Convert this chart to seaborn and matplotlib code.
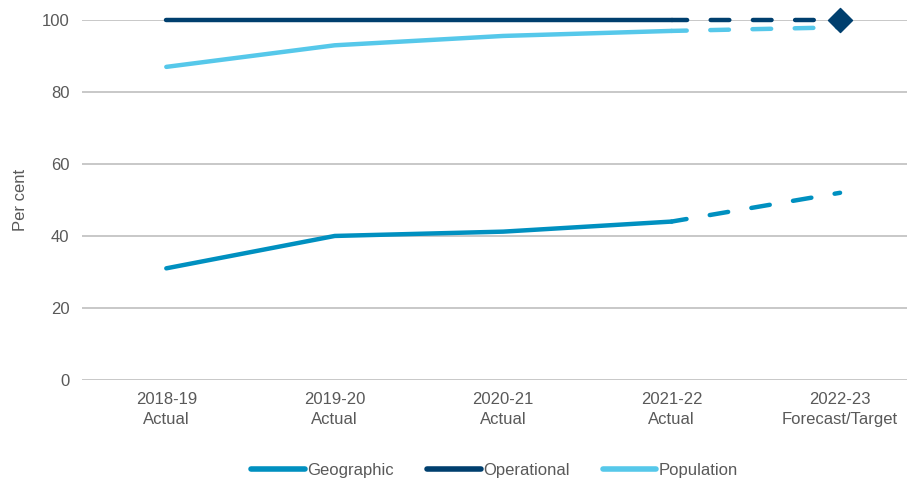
import pandas as pd
import matplotlib.pyplot as plt
import seaborn as sns
from matplotlib.lines import Line2D

# --- Data ---
years = ["2018-19\nActual", "2019-20\nActual", "2020-21\nActual",
         "2021-22\nActual", "2022-23\nForecast/Target"]
geographic = [31, 40, 41.2, 44, 52]
operational = [100, 100, 100, 100, 100]
population = [87, 93, 95.6, 97, 98]

colors = {"Geographic": "#0090C0", "Operational": "#003F6E", "Population": "#56C8EA"}

df = pd.DataFrame({"x": range(len(years)),
                   "Geographic": geographic,
                   "Operational": operational,
                   "Population": population})
long = df.melt(id_vars="x", var_name="series", value_name="value")

sns.set_style("white")
plt.rcParams["font.family"] = ["Liberation Sans", "DejaVu Sans"]

fig, ax = plt.subplots(figsize=(9.12, 4.79), dpi=100)

# actual (solid) part
actual = long[long["x"] <= 3]
sns.lineplot(data=actual, x="x", y="value", hue="series", palette=colors,
             linewidth=3.2, ax=ax, legend=False, solid_capstyle="round",
             clip_on=False)

# forecast (dashed) part
fc = long[long["x"] >= 3]
for name, grp in fc.groupby("series"):
    sns.lineplot(data=grp, x="x", y="value", color=colors[name], linewidth=3.2,
                 ax=ax, legend=False, linestyle=(0.8, (4.2, 5.3)),
                 dash_capstyle="round", clip_on=False)

# target marker
ax.scatter([4], [operational[4]], marker="D", s=150, color=colors["Operational"],
           zorder=5, clip_on=False)

ax.set_xlim(-0.5, 4.4)
ax.set_ylim(0, 100)
ax.set_yticks(range(0, 101, 20))
ax.set_xticks(range(len(years)))
ax.set_xticklabels(years, linespacing=1.35)
ax.set_xlabel("")
ax.set_ylabel("Per cent", fontsize=12, color="#595959", labelpad=10)
ax.tick_params(axis="both", labelsize=12, colors="#595959", length=0, pad=9)
ax.yaxis.grid(True, color="#BFBFBF", linewidth=1.2)
ax.set_axisbelow(True)
for s in ax.spines.values():
    s.set_visible(False)

handles = [Line2D([0], [0], color=colors[n], linewidth=4, solid_capstyle="round")
           for n in ["Geographic", "Operational", "Population"]]
ax.legend(handles, ["Geographic", "Operational", "Population"], loc="upper center",
          bbox_to_anchor=(0.5, -0.19), ncol=3, frameon=False, fontsize=12,
          handlelength=3.2, handletextpad=0.15, columnspacing=2.0,
          labelcolor="#595959")

plt.subplots_adjust(left=0.09, right=0.995, top=0.958, bottom=0.207)
plt.savefig("out.png", dpi=100)
